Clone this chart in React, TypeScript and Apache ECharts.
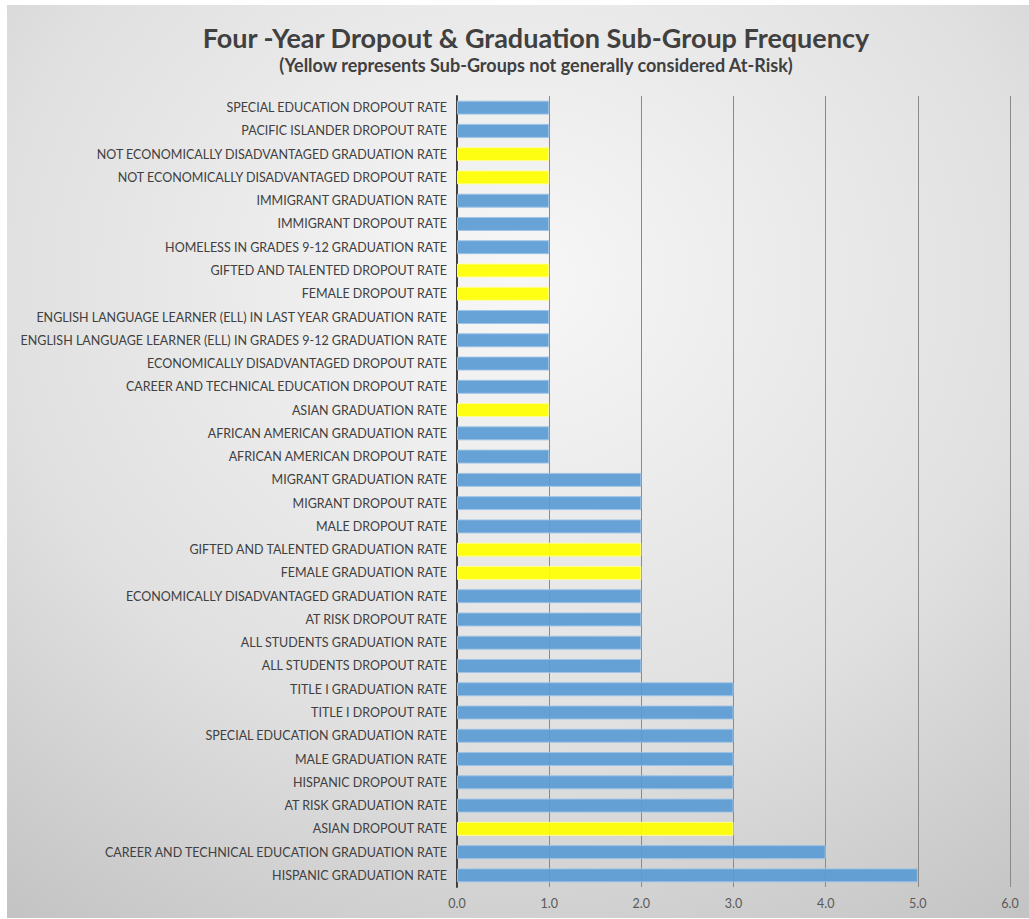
import React, { useEffect, useRef } from "react";
import * as echarts from "echarts";

const categories: string[] = [
  "SPECIAL EDUCATION DROPOUT RATE",
  "PACIFIC ISLANDER DROPOUT RATE",
  "NOT ECONOMICALLY DISADVANTAGED GRADUATION RATE",
  "NOT ECONOMICALLY DISADVANTAGED DROPOUT RATE",
  "IMMIGRANT GRADUATION RATE",
  "IMMIGRANT DROPOUT RATE",
  "HOMELESS IN GRADES 9-12 GRADUATION RATE",
  "GIFTED AND TALENTED DROPOUT RATE",
  "FEMALE DROPOUT RATE",
  "ENGLISH LANGUAGE LEARNER (ELL) IN LAST YEAR GRADUATION RATE",
  "ENGLISH LANGUAGE LEARNER (ELL) IN GRADES 9-12 GRADUATION RATE",
  "ECONOMICALLY DISADVANTAGED DROPOUT RATE",
  "CAREER AND TECHNICAL EDUCATION DROPOUT RATE",
  "ASIAN GRADUATION RATE",
  "AFRICAN AMERICAN GRADUATION RATE",
  "AFRICAN AMERICAN DROPOUT RATE",
  "MIGRANT GRADUATION RATE",
  "MIGRANT DROPOUT RATE",
  "MALE DROPOUT RATE",
  "GIFTED AND TALENTED GRADUATION RATE",
  "FEMALE GRADUATION RATE",
  "ECONOMICALLY DISADVANTAGED GRADUATION RATE",
  "AT RISK DROPOUT RATE",
  "ALL STUDENTS GRADUATION RATE",
  "ALL STUDENTS DROPOUT RATE",
  "TITLE I GRADUATION RATE",
  "TITLE I DROPOUT RATE",
  "SPECIAL EDUCATION GRADUATION RATE",
  "MALE GRADUATION RATE",
  "HISPANIC DROPOUT RATE",
  "AT RISK GRADUATION RATE",
  "ASIAN DROPOUT RATE",
  "CAREER AND TECHNICAL EDUCATION GRADUATION RATE",
  "HISPANIC GRADUATION RATE",
];

const frequency: number[] = [
  1, 1, 1, 1, 1, 1, 1, 1, 1, 1, 1, 1, 1, 1, 1, 1,
  2, 2, 2, 2, 2, 2, 2, 2, 2,
  3, 3, 3, 3, 3, 3, 3,
  4, 5,
];

// true = sub-group not generally considered At-Risk (yellow)
const notAtRisk: boolean[] = [
  false, false, true, true, false, false, false, true, true, false, false, false, false, true, false, false,
  false, false, false, true, true, false, false, false, false,
  false, false, false, false, false, false, true,
  false, false,
];

const titleText = "Four -Year Dropout & Graduation Sub-Group Frequency";
const subtitleText = "(Yellow represents Sub-Groups not generally considered At-Risk)";

const BLUE = "#5b9bd5";
const YELLOW = "#ffff00";

export default function App() {
  const ref = useRef<HTMLDivElement>(null);

  useEffect(() => {
    if (!ref.current) return;
    const chart = echarts.init(ref.current, undefined, { renderer: "svg" });
    const fontFamily = "Lato, 'Open Sans', sans-serif";
    chart.setOption({
      animation: false,
      backgroundColor: {
        type: "radial",
        x: 0.5,
        y: 0.3,
        r: 0.85,
        colorStops: [
          { offset: 0, color: "#f7f7f7" },
          { offset: 0.6, color: "#e0e0e0" },
          { offset: 1, color: "#c4c4c4" },
        ],
      },
      title: [
        {
          text: titleText,
          left: 524,
          top: 14,
          textAlign: "center",
          textStyle: {
            fontFamily,
            fontSize: 27,
            fontWeight: "bold",
            color: "#404040",
          },
        },
        {
          text: subtitleText,
          left: 524,
          top: 46,
          textAlign: "center",
          textStyle: {
            fontFamily,
            fontSize: 18,
            fontWeight: "bold",
            color: "#404040",
          },
        },
      ],
      grid: {
        left: 450,
        right: 19,
        top: 91,
        bottom: 31,
        containLabel: false,
      },
      xAxis: {
        type: "value",
        min: 0,
        max: 6,
        interval: 1,
        axisLine: { show: false },
        axisTick: { show: false },
        axisLabel: {
          formatter: (v: number) => v.toFixed(1),
          color: "#595959",
          fontFamily,
          fontSize: 12.5,
          margin: 10,
        },
        splitLine: { show: true, lineStyle: { color: "#8a8a8a", width: 1 } },
      },
      yAxis: {
        type: "category",
        data: categories,
        inverse: true,
        axisLine: { show: true, lineStyle: { color: "#404040", width: 2 } },
        axisTick: { show: false },
        axisLabel: {
          color: "#404040",
          fontFamily,
          fontSize: 12.5,
          margin: 10,
        },
      },
      series: [
        {
          type: "bar",
          data: frequency.map((v, i) => ({
            value: v,
            itemStyle: {
              color: notAtRisk[i] ? YELLOW : BLUE,
              borderColor: notAtRisk[i] ? "#ffff99" : "#9dc3e6",
              borderWidth: 1,
              opacity: 0.92,
            },
          })),
          barCategoryGap: "40%",
        },
      ],
    });
    return () => chart.dispose();
  }, []);

  return (
    <div
      ref={ref}
      style={{ position: "absolute", left: 7, top: 5, width: 1022, height: 913 }}
    />
  );
}
